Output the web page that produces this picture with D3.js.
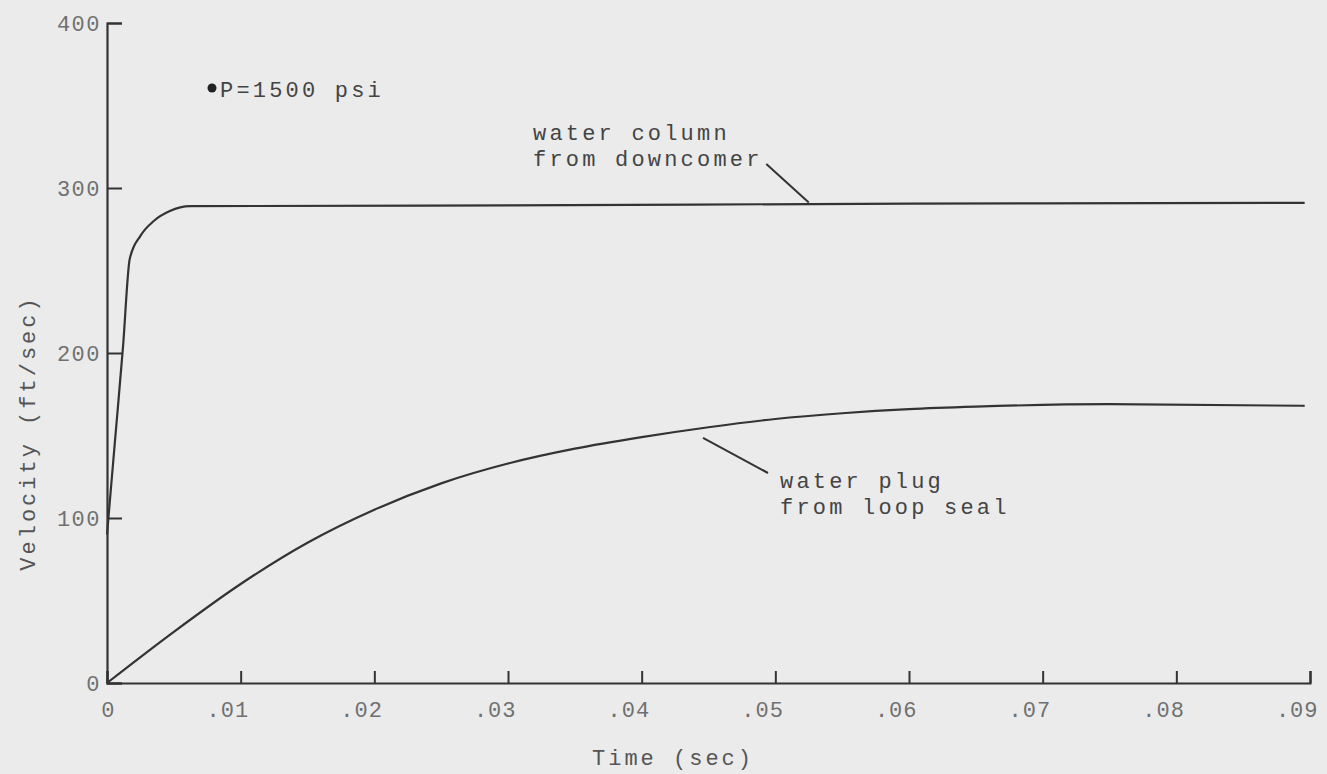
<!DOCTYPE html>
<html>
<head>
<meta charset="utf-8">
<script src="https://cdn.jsdelivr.net/npm/d3@7"></script>
<style>
  html, body { margin: 0; padding: 0; background: #ebebeb; }
  svg { display: block; }
  text { font-family: "Liberation Mono", "DejaVu Sans Mono", monospace; }
</style>
</head>
<body>
<svg id="chart"></svg>
<script>
var width = 1327;
var height = 774;

// time (sec) and velocity (ft/sec)
var downcomerTime = [0, 0.0006, 0.0012, 0.0017, 0.0025, 0.0035, 0.0047, 0.0062, 0.03, 0.06, 0.0896];
var downcomerVel  = [90, 147, 204, 257, 271, 280, 286, 289, 289.5, 290.5, 291];

var plugTime = [0, 0.005, 0.01, 0.015, 0.02, 0.025, 0.03, 0.035, 0.04, 0.045, 0.05, 0.055, 0.06, 0.065, 0.075, 0.0896];
var plugVel  = [0, 31, 60, 85, 105, 121, 133, 142, 149, 155, 160, 163.5, 166, 167.5, 169, 168];

var xTicks = [0, 0.01, 0.02, 0.03, 0.04, 0.05, 0.06, 0.07, 0.08, 0.09];
var xTickLabels = ["0", ".01", ".02", ".03", ".04", ".05", ".06", ".07", ".08", ".09"];
var yTicks = [0, 100, 200, 300, 400];

var x = d3.scaleLinear().domain([0, 0.09]).range([107, 1310]);
var y = d3.scaleLinear().domain([0, 400]).range([683, 23]);

var svg = d3.select("#chart")
    .attr("width", width)
    .attr("height", height);

var ink = "#333";

// axes, ticks drawn inward like the original
svg.append("g")
    .attr("transform", "translate(0," + y(0) + ")")
    .call(d3.axisBottom(x).tickValues(xTicks).tickSize(-12).tickPadding(18)
        .tickFormat((d, i) => xTickLabels[i]))
    .call(g => {
        g.select(".domain").attr("stroke", ink).attr("stroke-width", 2.2);
        g.selectAll(".tick line").attr("stroke", ink).attr("stroke-width", 2);
        g.selectAll(".tick text")
            .attr("text-anchor", "end")
            .attr("x", 8)
            .attr("fill", "#707070")
            .style("font-size", "22px")
            .style("letter-spacing", "1px");
    });

svg.append("g")
    .attr("transform", "translate(" + x(0) + ",0)")
    .call(d3.axisLeft(y).tickValues(yTicks).tickSize(-15).tickPadding(6))
    .call(g => {
        g.select(".domain").attr("stroke", ink).attr("stroke-width", 2.2);
        g.selectAll(".tick line").attr("stroke", ink).attr("stroke-width", 2);
        g.selectAll(".tick text")
            .attr("fill", "#707070")
            .style("font-size", "22px")
            .style("letter-spacing", "1.5px");
    });

// axis titles
svg.append("text")
    .attr("x", 673)
    .attr("y", 765)
    .attr("text-anchor", "middle")
    .attr("fill", "#555")
    .style("font-size", "22px")
    .style("letter-spacing", "3px")
    .text("Time (sec)");

svg.append("text")
    .attr("transform", "translate(35,433) rotate(-90)")
    .attr("text-anchor", "middle")
    .attr("fill", "#555")
    .style("font-size", "22px")
    .style("letter-spacing", "3px")
    .text("Velocity (ft/sec)");

// curves
var line = d3.line()
    .x(d => x(d[0]))
    .y(d => y(d[1]))
    .curve(d3.curveMonotoneX);

svg.append("path")
    .datum(downcomerTime.map((t, i) => [t, downcomerVel[i]]))
    .attr("d", line)
    .attr("fill", "none")
    .attr("stroke", ink)
    .attr("stroke-width", 2.2);

svg.append("path")
    .datum(plugTime.map((t, i) => [t, plugVel[i]]))
    .attr("d", line)
    .attr("fill", "none")
    .attr("stroke", ink)
    .attr("stroke-width", 2.2);

// annotations
function note(lines, px, py) {
    var t = svg.append("text")
        .attr("x", px)
        .attr("y", py)
        .attr("fill", "#444")
        .style("font-size", "22px")
        .style("letter-spacing", "3.2px");
    lines.forEach((s, i) => {
        t.append("tspan").attr("x", px).attr("dy", i === 0 ? 0 : 26).text(s);
    });
}

svg.append("circle").attr("cx", 212).attr("cy", 88).attr("r", 4.5).attr("fill", "#222");
note(["P=1500 psi"], 220, 97);

note(["water column", "from downcomer"], 533, 140);
svg.append("line")
    .attr("x1", x(0.0494) - 1).attr("y1", 164)
    .attr("x2", x(0.0525)).attr("y2", y(290) - 2)
    .attr("stroke", ink).attr("stroke-width", 2);

note(["water plug", "from loop seal"], 780, 488);
svg.append("line")
    .attr("x1", 703).attr("y1", y(151) + 4)
    .attr("x2", 768).attr("y2", 473)
    .attr("stroke", ink).attr("stroke-width", 2);
</script>
</body>
</html>
